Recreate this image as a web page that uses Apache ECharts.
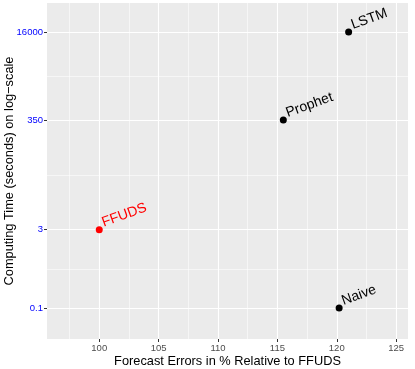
<!DOCTYPE html>
<html>
<head>
<meta charset="utf-8">
<script src="https://cdn.jsdelivr.net/npm/echarts@6/dist/echarts.min.js"></script>
<style>
html,body{margin:0;padding:0;background:#fff;}
#main{width:415px;height:369px;}
</style>
</head>
<body>
<div id="main"></div>
<script>
// methods and their position in the plot
var methods = ['FFUDS', 'Prophet', 'LSTM', 'Naive'];
var errors = [100, 115.5, 121, 120.2];      // % relative to FFUDS
var times = [3, 350, 16000, 0.1];           // seconds
var colors = ['#FF0000', '#000000', '#000000', '#000000'];

// axis breaks
var xBreaks = [100, 105, 110, 115, 120, 125];
var xMinor = [97.5, 102.5, 107.5, 112.5, 117.5, 122.5];
var yBreaks = [0.1, 3, 350, 16000];
var yMinor = [0.548, 32.4, 2366];

var font = 'Liberation Sans, Arial, sans-serif';

var points = methods.map(function (m, i) {
  return {
    name: m,
    value: [errors[i], times[i]],
    itemStyle: { color: colors[i], opacity: 1 },
    label: { color: colors[i] }
  };
});

var myChart = echarts.init(document.getElementById('main'));
var option = {
  backgroundColor: '#ffffff',
  animation: false,
  grid: {
    left: 47, right: 7, top: 3, bottom: 30,
    outerBoundsMode: 'none',
    containLabel: false,
    show: true, backgroundColor: '#EBEBEB', borderWidth: 0
  },
  xAxis: [{
    type: 'value',
    min: 95.6, max: 126,
    name: 'Forecast Errors in % Relative to FFUDS',
    nameLocation: 'middle',
    nameGap: 16,
    nameMoveOverlap: false,
    nameTextStyle: { fontFamily: font, fontSize: 12.8, color: '#000' },
    axisLine: { show: false },
    axisTick: { show: true, length: 3, lineStyle: { color: '#333', width: 1 }, customValues: xBreaks },
    axisLabel: { fontFamily: font, fontSize: 9.5, color: '#4D4D4D', margin: 4, customValues: xBreaks },
    splitLine: { show: true, lineStyle: { color: '#ffffff', width: 1.1 } }
  }, {
    type: 'value',
    min: 95.6, max: 126,
    position: 'bottom',
    axisLine: { show: false },
    axisTick: { show: false, customValues: xMinor },
    axisLabel: { show: false, customValues: xMinor },
    splitLine: { show: true, lineStyle: { color: '#ffffff', width: 0.55 } }
  }],
  yAxis: [{
    type: 'log',
    min: 0.026, max: 56400,
    name: 'Computing Time (seconds) on log\u2212scale',
    nameLocation: 'middle',
    nameGap: 31,
    nameMoveOverlap: false,
    nameTextStyle: { fontFamily: font, fontSize: 12.8, color: '#000' },
    axisLine: { show: false },
    axisTick: { show: true, length: 3, lineStyle: { color: '#333', width: 1 }, customValues: yBreaks },
    axisLabel: {
      fontFamily: font, fontSize: 9.5, color: '#0000FF', margin: 4, customValues: yBreaks,
      formatter: function (v) { return String(Math.round(v * 10) / 10); }
    },
    splitLine: { show: true, lineStyle: { color: '#ffffff', width: 1.1 } }
  }, {
    type: 'log',
    min: 0.026, max: 56400,
    position: 'left',
    axisLine: { show: false },
    axisTick: { show: false, customValues: yMinor },
    axisLabel: { show: false, customValues: yMinor },
    splitLine: { show: true, lineStyle: { color: '#ffffff', width: 0.55 } }
  }],
  series: [{
    type: 'scatter',
    symbolSize: 7,
    z: 5,
    data: points,
    label: {
      show: true,
      formatter: '{b}',
      position: 'right',
      distance: 2,
      rotate: 20,
      align: 'left',
      verticalAlign: 'bottom',
      fontFamily: font,
      fontSize: 14
    }
  }]
};
myChart.setOption(option);
</script>
</body>
</html>
